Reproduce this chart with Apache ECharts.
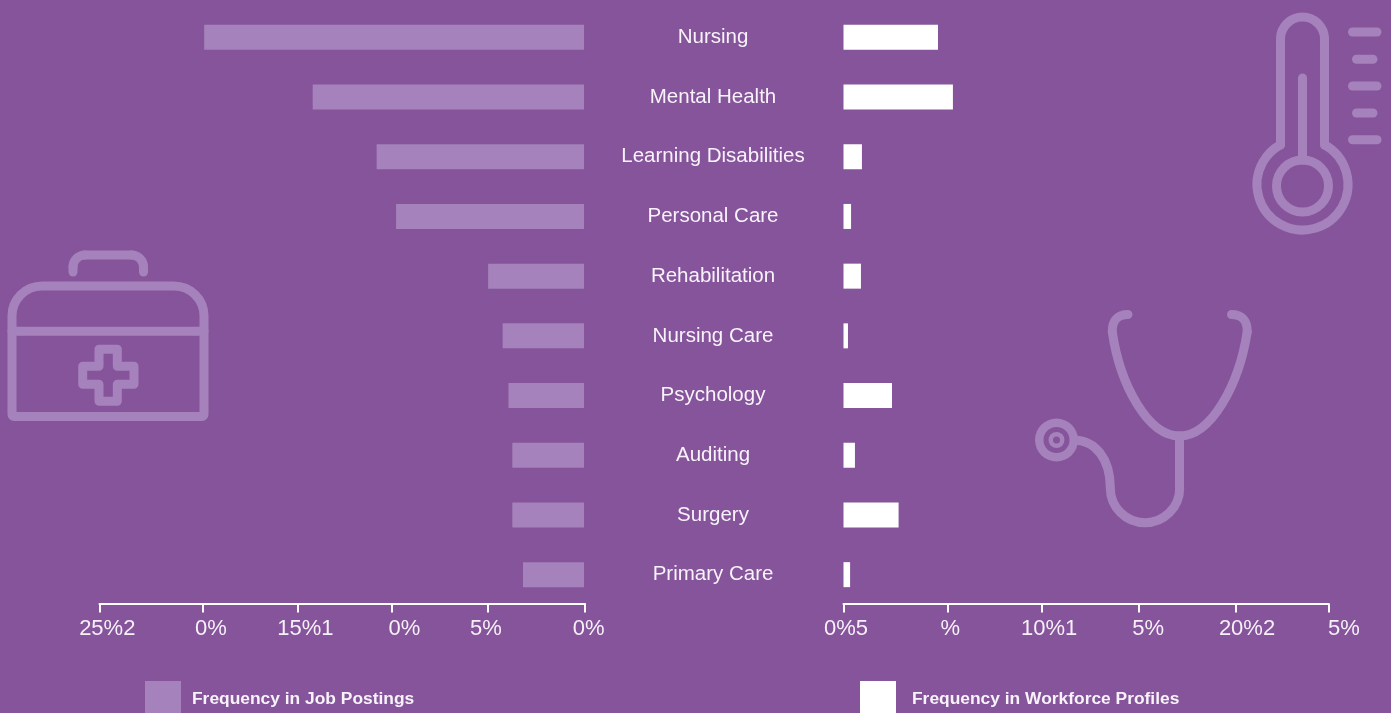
<!DOCTYPE html>
<html>
<head>
<meta charset="utf-8">
<title>Frequency in Job Postings and Workforce Profiles</title>
<script src="https://cdn.jsdelivr.net/npm/echarts@6/dist/echarts.min.js"></script>
<style>
html, body { margin: 0; padding: 0; background: #85549B; overflow: hidden; }
#chart { width: 1391px; height: 713px; }
</style>
</head>
<body>
<div id="chart"></div>
<script>
var categories = ['Nursing', 'Mental Health', 'Learning Disabilities', 'Personal Care', 'Rehabilitation',
  'Nursing Care', 'Psychology', 'Auditing', 'Surgery', 'Primary Care'];
var jobPostings = [19.6, 14.0, 10.7, 9.7, 4.95, 4.2, 3.9, 3.7, 3.7, 3.15];
var workforceProfiles = [4.87, 5.64, 0.95, 0.39, 0.9, 0.23, 2.5, 0.59, 2.84, 0.34];

// the axes in the picture are unevenly ticked and the labels have slipped, so both are listed
var jobTicks = [25, 19.66, 14.78, 9.9, 4.95, -0.05];
var jobLabels = ['25%2', '0%', '15%1', '0%', '5%', '0%'];
var jobLabelAt = [24.6, 19.26, 14.4, 9.3, 5.1, -0.19];
var profileTicks = [0, 5.39, 10.2, 15.2, 20.2, 25];
var profileLabels = ['0%5', '%', '10%1', '5%', '20%2', '5%'];
var profileLabelAt = [0.13, 5.5, 10.6, 15.7, 20.8, 25.8];

var BG = '#85549B';
var LIGHT = '#A582BB';
var FONT = '"Liberation Sans", Arial, sans-serif';

function labelFormatter(at, labels) {
  return function (v) {
    return labels[at.indexOf(v)];
  };
}

function iconLine(x1, y1, x2, y2) {
  return { type: 'line', shape: { x1: x1, y1: y1, x2: x2, y2: y2 }, style: iconStyle() };
}
function iconCurve(x1, y1, c1x, c1y, c2x, c2y, x2, y2) {
  return { type: 'bezierCurve', shape: { x1: x1, y1: y1, cpx1: c1x, cpy1: c1y, cpx2: c2x, cpy2: c2y, x2: x2, y2: y2 }, style: iconStyle() };
}
function iconArc(cx, cy, r, a, b) {
  return { type: 'arc', shape: { cx: cx, cy: cy, r: r, startAngle: a, endAngle: b, clockwise: true }, style: iconStyle() };
}
function iconStyle() {
  return { stroke: LIGHT, fill: null, lineWidth: 9, lineCap: 'round', lineJoin: 'round' };
}
function disc(cx, cy, r, color) {
  return { type: 'circle', shape: { cx: cx, cy: cy, r: r }, style: { fill: color } };
}

var thermometer = [
  iconLine(1280.5, 145, 1280.5, 39),
  iconLine(1324.5, 145, 1324.5, 39),
  iconArc(1302.5, 39, 22, Math.PI, Math.PI * 2),
  iconArc(1302.5, 184.5, 45.5, -1.064, 4.206),
  iconLine(1302.5, 78, 1302.5, 160),
  { type: 'circle', shape: { cx: 1302.5, cy: 186, r: 26 }, style: iconStyle() },
  iconLine(1352.5, 32, 1377, 32),
  iconLine(1356.5, 59.3, 1373, 59.3),
  iconLine(1352.5, 86, 1377, 86),
  iconLine(1356.5, 113, 1373, 113),
  iconLine(1352.5, 139.7, 1377, 139.7)
];
var medicalBag = [
  iconLine(73, 272, 73, 267),
  iconArc(85, 267, 12, Math.PI, Math.PI * 1.5),
  iconLine(85, 255, 131.5, 255),
  iconArc(131.5, 267, 12, Math.PI * 1.5, Math.PI * 2),
  iconLine(143.5, 267, 143.5, 272),
  { type: 'rect', shape: { x: 12, y: 286, width: 192, height: 130.5, r: [30, 30, 2, 2] }, style: iconStyle() },
  iconLine(12, 331.3, 204, 331.3),
  { type: 'polygon', shape: { points: [[99, 349.3], [117.3, 349.3], [117.3, 366.3], [134, 366.3], [134, 384.3], [117.3, 384.3],
    [117.3, 401.3], [99, 401.3], [99, 384.3], [82.7, 384.3], [82.7, 366.3], [99, 366.3]] }, style: iconStyle() }
];
var stethoscope = [
  iconCurve(1128, 314.5, 1118, 314.5, 1112, 320, 1112.3, 332),
  iconCurve(1112.3, 332, 1120, 385, 1148, 436, 1179.5, 436),
  iconCurve(1231.5, 314.5, 1241.5, 314.5, 1247.5, 320, 1247.2, 332),
  iconCurve(1247.2, 332, 1239, 385, 1211, 436, 1179.5, 436),
  iconLine(1179.5, 436, 1179.5, 488),
  iconArc(1145, 488, 34.7, 0, Math.PI),
  iconCurve(1110.3, 488, 1110.3, 458, 1095, 441, 1075, 440),
  disc(1056.5, 440, 21.5, LIGHT),
  disc(1056.5, 440, 13, BG),
  disc(1056.5, 440, 8, LIGHT),
  disc(1056.5, 440, 3.5, BG)
];

var chart = echarts.init(document.getElementById('chart'));

var hiddenY = {
  type: 'category', inverse: true, data: categories,
  axisLine: { show: false }, axisTick: { show: false }, axisLabel: { show: false }
};
var ruleX = {
  type: 'value', min: 0, max: 25, offset: -1, splitLine: { show: false },
  axisLine: { show: true, lineStyle: { color: '#fff', width: 2 } },
  axisLabel: { show: false }
};
var labelX = {
  type: 'value', min: -2, max: 27, splitLine: { show: false },
  axisLine: { show: false }, axisTick: { show: false }
};
var tickLabelStyle = { show: true, color: '#f6f0f8', fontSize: 22, fontFamily: FONT, margin: 13, hideOverlap: false, showMinLabel: true, showMaxLabel: true };

chart.setOption({
  animation: false,
  backgroundColor: BG,
  textStyle: { fontFamily: FONT },
  grid: [
    { left: 99.5, width: 485.5, top: 7.5, height: 597 },
    { left: 843.5, width: 485, top: 7.5, height: 597 },
    { left: 60.66, width: 563.18, top: 7.5, height: 597 },
    { left: 804.7, width: 562.6, top: 7.5, height: 597 }
  ],
  xAxis: [
    Object.assign({}, ruleX, { gridIndex: 0, inverse: true, min: -0.05, axisTick: { show: true, length: 9, lineStyle: { color: '#fff', width: 2 }, customValues: jobTicks } }),
    Object.assign({}, ruleX, { gridIndex: 1, axisTick: { show: true, length: 9, lineStyle: { color: '#fff', width: 2 }, customValues: profileTicks } }),
    Object.assign({}, labelX, { gridIndex: 2, inverse: true, axisLabel: Object.assign({}, tickLabelStyle, { customValues: jobLabelAt, formatter: labelFormatter(jobLabelAt, jobLabels) }) }),
    Object.assign({}, labelX, { gridIndex: 3, axisLabel: Object.assign({}, tickLabelStyle, { customValues: profileLabelAt, formatter: labelFormatter(profileLabelAt, profileLabels) }) })
  ],
  yAxis: [
    {
      type: 'category', inverse: true, data: categories, gridIndex: 0, position: 'right',
      axisLine: { show: false }, axisTick: { show: false },
      axisLabel: { show: true, interval: 0, color: '#f8f3fa', fontSize: 20.5, fontFamily: FONT, align: 'center', margin: 128 }
    },
    Object.assign({}, hiddenY, { gridIndex: 1 }),
    Object.assign({}, hiddenY, { gridIndex: 2 }),
    Object.assign({}, hiddenY, { gridIndex: 3 })
  ],
  legend: [
    {
      // swatch runs off the bottom of the page, which also centres the text where it should be
      data: ['Frequency in Job Postings'], left: 145, top: 681, padding: 0,
      itemWidth: 36, itemHeight: 36, icon: 'rect',
      textStyle: { color: '#f8f3fa', fontSize: 17.4, fontWeight: 'bold', fontFamily: FONT, padding: [0, 0, 0, 6] }
    },
    {
      data: ['Frequency in Workforce Profiles'], left: 860, top: 681, padding: 0,
      itemWidth: 36, itemHeight: 36, icon: 'rect',
      textStyle: { color: '#f8f3fa', fontSize: 17.4, fontWeight: 'bold', fontFamily: FONT, padding: [0, 0, 0, 11] }
    }
  ],
  series: [
    { name: 'Frequency in Job Postings', type: 'bar', xAxisIndex: 0, yAxisIndex: 0, data: jobPostings, barWidth: 25, itemStyle: { color: LIGHT } },
    { name: 'Frequency in Workforce Profiles', type: 'bar', xAxisIndex: 1, yAxisIndex: 1, data: workforceProfiles, barWidth: 25, itemStyle: { color: '#fff' } }
  ],
  graphic: { elements: [].concat(thermometer, medicalBag, stethoscope) }
});
</script>
</body>
</html>
